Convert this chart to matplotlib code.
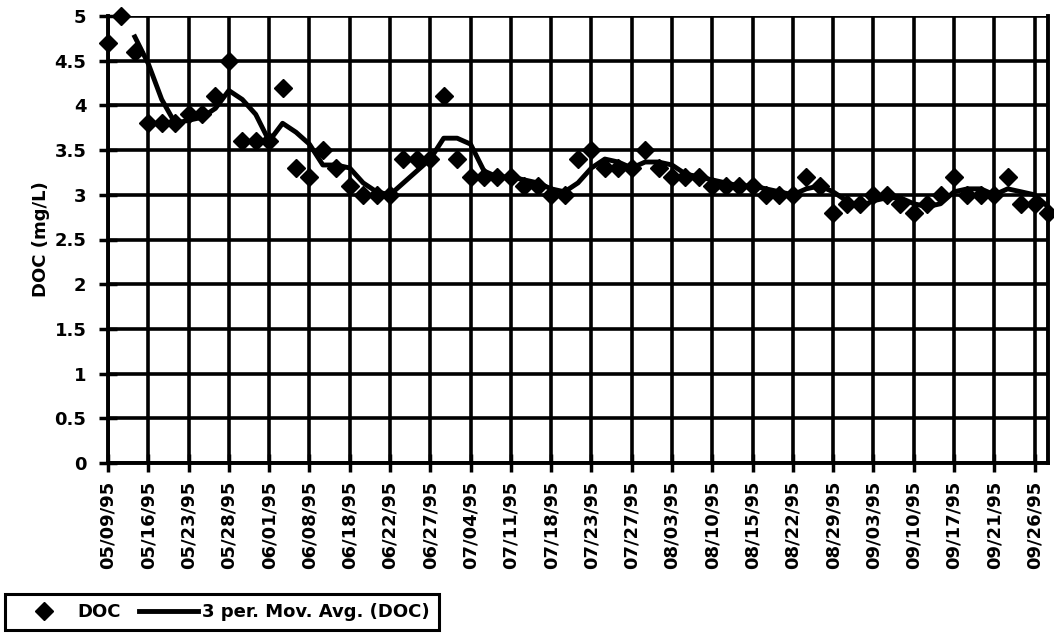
import numpy as np
import pandas as pd
import matplotlib
matplotlib.use("Agg")
import matplotlib.pyplot as plt
from matplotlib.lines import Line2D

# tick labels (every 3rd sample carries a date)
date_labels = ["05/09/95", "05/16/95", "05/23/95", "05/28/95", "06/01/95", "06/08/95",
               "06/18/95", "06/22/95", "06/27/95", "07/04/95", "07/11/95", "07/18/95",
               "07/23/95", "07/27/95", "08/03/95", "08/10/95", "08/15/95", "08/22/95",
               "08/29/95", "09/03/95", "09/10/95", "09/17/95", "09/21/95", "09/26/95"]

# DOC values (mg/L), one per sample
doc = [4.7, 5.0, 4.6, 3.8, 3.8, 3.8, 3.9, 3.9, 4.1, 4.5,
       3.6, 3.6, 3.6, 4.2, 3.3, 3.2, 3.5, 3.3, 3.1, 3.0,
       3.0, 3.0, 3.4, 3.4, 3.4, 4.1, 3.4, 3.2, 3.2, 3.2,
       3.2, 3.1, 3.1, 3.0, 3.0, 3.4, 3.5, 3.3, 3.3, 3.3,
       3.5, 3.3, 3.2, 3.2, 3.2, 3.1, 3.1, 3.1, 3.1, 3.0,
       3.0, 3.0, 3.2, 3.1, 2.8, 2.9, 2.9, 3.0, 3.0, 2.9,
       2.8, 2.9, 3.0, 3.2, 3.0, 3.0, 3.0, 3.2, 2.9, 2.9,
       2.8]

plt.rcParams['font.family'] = ['DejaVu Sans']
plt.rcParams['font.weight'] = 'bold'

x = np.arange(len(doc))
mov_avg = pd.Series(doc).rolling(3).mean()

fig = plt.figure(figsize=(10.54, 6.33), dpi=100)
ax = fig.add_axes([108 / 1054, 1 - 463 / 633, 940 / 1054, 447 / 633])

ax.plot(x, doc, linestyle='none', marker='D', markersize=9.5,
        color='black', zorder=3, clip_on=False)
ax.plot(x, mov_avg, color='black', linewidth=3.5, zorder=4)

ax.set_xlim(0, len(doc) - 1)
ax.set_ylim(0, 5)

# grid
ax.set_yticks(np.arange(0, 5.01, 0.5))
ax.set_yticklabels(['0', '0.5', '1', '1.5', '2', '2.5', '3', '3.5', '4', '4.5', '5'])
ax.set_xticks(np.arange(0, len(doc), 3))
ax.set_xticklabels(date_labels, rotation=90)
ax.grid(True, color='black', linewidth=2.6)
ax.set_axisbelow(True)

for s in ax.spines.values():
    s.set_linewidth(2.8)
ax.spines['top'].set_visible(False)

ax.tick_params(axis='both', direction='inout', length=13, width=2.5,
               labelsize=13, pad=6)
ax.tick_params(axis='y', pad=9)
ax.set_ylabel('DOC (mg/L)', fontsize=13, fontweight='bold', labelpad=3)

handles = [Line2D([], [], linestyle='none', marker='D', markersize=9.5, color='black'),
           Line2D([], [], color='black', linewidth=3.5)]
leg = fig.legend(handles, ['DOC', '3 per. Mov. Avg. (DOC)'], ncol=2,
                 loc='lower left', bbox_to_anchor=(5 / 1054, 3 / 633),
                 borderaxespad=0,
                 prop={'size': 13, 'weight': 'bold'}, frameon=True, fancybox=False,
                 edgecolor='black', framealpha=1, handlelength=3.3,
                 handletextpad=0.2, columnspacing=1.0, borderpad=0.5)
leg.get_frame().set_linewidth(2.2)

fig.savefig('out.png', dpi=100)
